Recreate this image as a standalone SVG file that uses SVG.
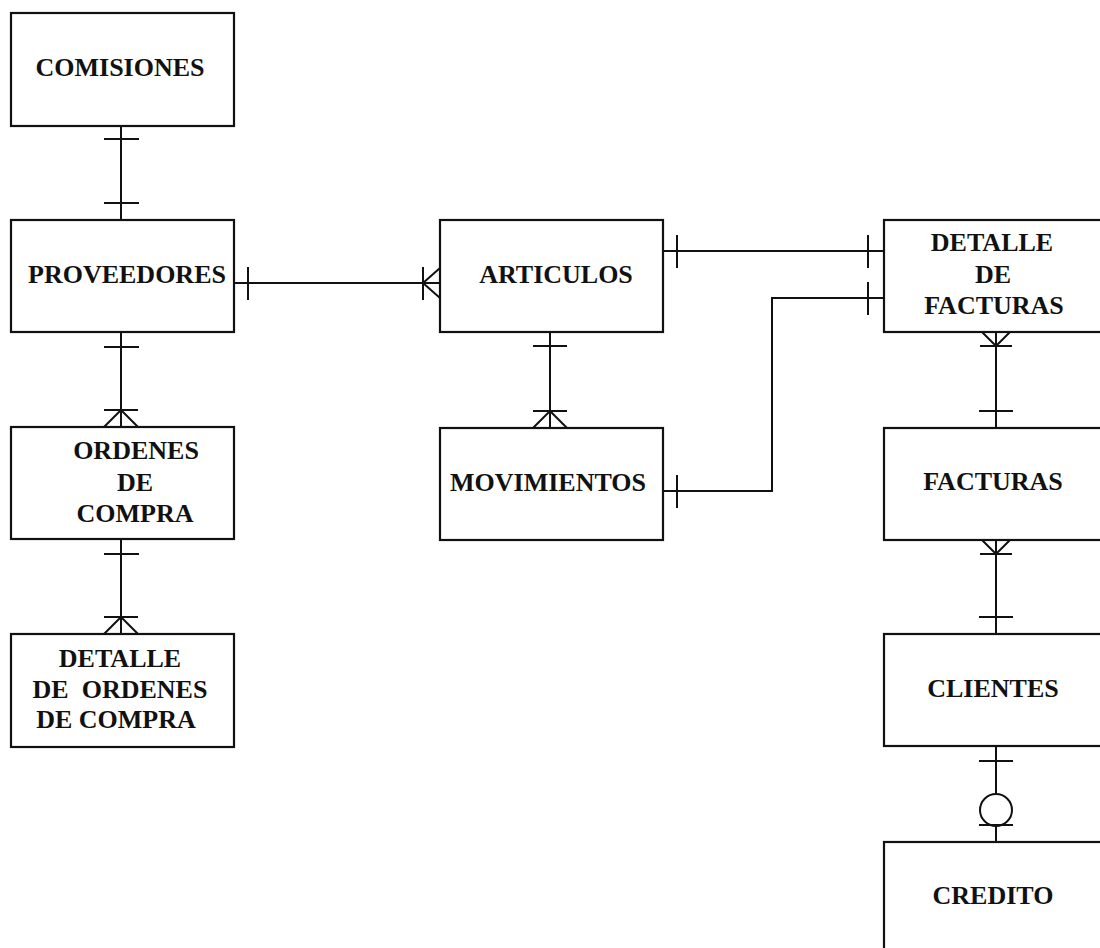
<svg xmlns="http://www.w3.org/2000/svg" width="1100" height="948" viewBox="0 0 1100 948">
<style>
.box{fill:#fff;stroke:#111;stroke-width:2.2}
.lbl{font-family:"Liberation Serif","Times New Roman",serif;font-weight:bold;font-size:26px;fill:#111;text-anchor:middle}
.ln{fill:none;stroke:#111;stroke-width:2}
</style>
<rect width="1100" height="948" fill="#fff"/>
<g id="connectors" class="ln">
<!-- Comisiones - Proveedores -->
<path d="M121 126V220M104 139H139M104 203H139"/>
<!-- Proveedores - Ordenes -->
<path d="M121 332V427M104 347H139M104 410H138M121 410L104 427M121 410L138 427"/>
<!-- Ordenes - Detalle ordenes -->
<path d="M121 539V634M104 554H139M104 617H138M121 617L104 634M121 617L138 634"/>
<!-- Proveedores - Articulos -->
<path d="M234 283H440M248 267V300M423 267V300M423 283L440 268M423 283L440 298"/>
<!-- Articulos - Movimientos -->
<path d="M550 332V428M533 346H567M533 411H567M550 411L533 428M550 411L567 428"/>
<!-- Articulos - Detalle facturas -->
<path d="M663 251H884M677 235V268M868 235V268"/>
<!-- Movimientos - Detalle facturas -->
<path d="M663 491H772V298H884M677 475V508M868 282V315"/>
<!-- Detalle facturas - Facturas -->
<path d="M996 332V428M980 346H1012M996 346L982 332M996 346L1010 332M979 411H1013"/>
<!-- Facturas - Clientes -->
<path d="M996 540V634M980 554H1012M996 554L982 540M996 554L1010 540M979 617H1013"/>
<!-- Clientes - Credito -->
<path d="M996 746V794M996 826V842M979 761H1013M979 825H1013"/>
<circle cx="996" cy="810" r="16"/>
</g>
<g id="comisiones"><rect class="box" x="11" y="13" width="223" height="113"/><text class="lbl" x="120" y="76">COMISIONES</text></g>
<g id="proveedores"><rect class="box" x="11" y="220" width="223" height="112"/><text class="lbl" x="127" y="283">PROVEEDORES</text></g>
<g id="ordenes"><rect class="box" x="11" y="427" width="223" height="112"/><text class="lbl" x="136" y="459">ORDENES</text><text class="lbl" x="135" y="491">DE</text><text class="lbl" x="135" y="522">COMPRA</text></g>
<g id="detalle-ordenes"><rect class="box" x="11" y="634" width="223" height="113"/><text class="lbl" x="120" y="667">DETALLE</text><text class="lbl" x="120" y="698" xml:space="preserve">DE  ORDENES</text><text class="lbl" x="116" y="728">DE COMPRA</text></g>
<g id="articulos"><rect class="box" x="440" y="220" width="223" height="112"/><text class="lbl" x="556" y="283">ARTICULOS</text></g>
<g id="movimientos"><rect class="box" x="440" y="428" width="223" height="112"/><text class="lbl" x="548" y="491">MOVIMIENTOS</text></g>
<g id="detalle-facturas"><rect class="box" x="884" y="220" width="230" height="112"/><text class="lbl" x="992" y="251">DETALLE</text><text class="lbl" x="993" y="283">DE</text><text class="lbl" x="994" y="314">FACTURAS</text></g>
<g id="facturas"><rect class="box" x="884" y="428" width="230" height="112"/><text class="lbl" x="993" y="490">FACTURAS</text></g>
<g id="clientes"><rect class="box" x="884" y="634" width="230" height="112"/><text class="lbl" x="993" y="697">CLIENTES</text></g>
<g id="credito"><rect class="box" x="884" y="842" width="230" height="120"/><text class="lbl" x="993" y="904">CREDITO</text></g>
</svg>
